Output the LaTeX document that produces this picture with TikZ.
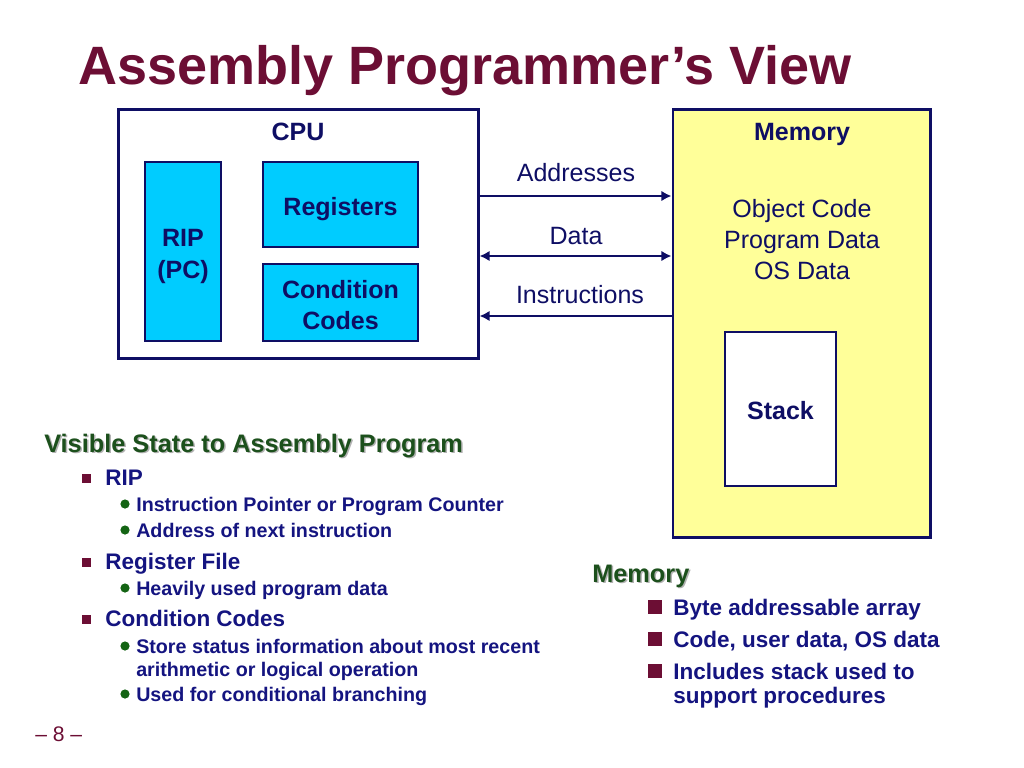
\documentclass[tikz,border=0pt]{standalone}
\usepackage{fontspec}
\setmainfont{Liberation Sans}
\usetikzlibrary{arrows.meta, positioning}
\definecolor{navy}{RGB}{14,14,100}
\definecolor{itemblue}{RGB}{20,20,128}
\definecolor{maroon}{RGB}{108,14,52}
\definecolor{headgreen}{RGB}{28,80,28}
\definecolor{dotgreen}{RGB}{20,100,20}
\definecolor{regcyan}{RGB}{0,204,255}
\definecolor{memyellow}{RGB}{255,255,153}
\newcommand{\boxfont}{\fontsize{17.8pt}{22.5pt}\selectfont}
\newcommand{\headfont}{\fontsize{18pt}{22pt}\selectfont\bfseries}
\newcommand{\itemfont}{\fontsize{16pt}{20pt}\selectfont\bfseries}
\newcommand{\subfont}{\fontsize{14pt}{17pt}\selectfont\bfseries}

\begin{document}
\begin{tikzpicture}[x=0.025cm, y=-0.025cm,
    >={Latex[length=2.5mm, width=2.6mm]},
    outerbox/.style={draw=navy, line width=2.1pt, inner sep=0pt},
    innerbox/.style={draw=navy, line width=1.7pt, inner sep=0pt},
    boxtext/.style={align=center, inner sep=0pt, text=navy, font=\boxfont\bfseries},
    boxlabel/.style={anchor=base, inner sep=0pt, text=navy, font=\boxfont},
    bus/.style={draw=navy, line width=1.5pt},
    heading/.style={anchor=base west, inner sep=0pt, font=\headfont},
    item/.style={anchor=base west, inner sep=0pt, text=itemblue, font=\itemfont},
    subitem/.style={anchor=base west, inner sep=0pt, text=itemblue, font=\subfont},
    square/.style={fill=maroon, minimum size=0.225cm, inner sep=0pt},
    bigsquare/.style={fill=maroon, minimum size=0.34cm, inner sep=0pt},
    dot/.style={circle, fill=dotgreen, minimum size=0.23cm, inner sep=0pt}]
    \useasboundingbox (0,0) rectangle (1024,768);

    % title
    \node[anchor=base west, inner sep=0pt, text=maroon, font=\fontsize{38.4pt}{46pt}\selectfont\bfseries] (title) at (78,85) {Assembly Programmer’s View};

    % cpu
    \node[outerbox, minimum width=8.975cm, minimum height=6.2cm] (cpu) at (298.5,234) {};
    \node[boxlabel, font=\boxfont\bfseries] (cpulbl) at (298,141) {CPU};
    \node[innerbox, fill=regcyan, minimum width=1.9cm, minimum height=4.475cm] (rip) at (183,251.5) {};
    \node[innerbox, fill=regcyan, minimum width=3.875cm, minimum height=2.125cm] (regs) at (340.5,204.5) {};
    \node[innerbox, fill=regcyan, minimum width=3.875cm, minimum height=1.925cm] (cc) at (340.5,302.5) {};
    \node[boxtext] (riptxt) at (183,256.5) {RIP\\(PC)};
    \node[boxtext] (regstxt) at (340.5,209.5) {Registers};
    \node[boxtext] (cctxt) at (340.5,305) {Condition\\Codes};

    % memory
    \node[outerbox, fill=memyellow, minimum width=6.425cm, minimum height=10.675cm] (mem) at (801.5,323.5) {};
    \node[boxlabel, font=\boxfont\bfseries] (memlbl) at (802,141) {Memory};
    \node[align=center, inner sep=0pt, text=navy, font=\fontsize{17.8pt}{21.8pt}\selectfont] (objs) at (802,239.5) {Object Code\\Program Data\\OS Data};
    \node[innerbox, fill=white, minimum width=2.775cm, minimum height=3.85cm] (stack) at (780.5,409) {};
    \node[boxtext] (stacktxt) at (780.5,411) {Stack};

    % buses
    \coordinate (addr) at (576,196);
    \coordinate (data) at (576,256);
    \coordinate (inst) at (576,316);
    \node[boxlabel] (addrlbl) at (576,181.5) {Addresses};
    \node[boxlabel] (datalbl) at (576,244) {Data};
    \node[boxlabel] (instlbl) at (580,303.5) {Instructions};
    \draw[bus, ->] (cpu.east |- addr) -- (mem.west |- addr);
    \draw[bus, <->] (cpu.east |- data) -- (mem.west |- data);
    \draw[bus, <-] (cpu.east |- inst) -- (mem.west |- inst);

    % visible state
    \node[heading, text=black!30] at (45.5,453.5) {Visible State to Assembly Program};
    \node[heading, text=headgreen] (vis) at (44,452) {Visible State to Assembly Program};
    \node[square] (s1) at (86,478) {};
    \node[item] (i1) at (105,485) {RIP};
    \node[dot] (d1) at (125,504) {};
    \node[subitem] (t1) at (136,511) {Instruction Pointer or Program Counter};
    \node[dot] (d2) at (125,530) {};
    \node[subitem] (t2) at (136,537) {Address of next instruction};
    \node[square] (s2) at (86,562) {};
    \node[item] (i2) at (105,569) {Register File};
    \node[dot] (d3) at (125,588) {};
    \node[subitem] (t3) at (136,595) {Heavily used program data};
    \node[square] (s3) at (86,619) {};
    \node[item] (i3) at (105,626) {Condition Codes};
    \node[dot] (d4) at (125,646) {};
    \node[subitem] (t4) at (136,653) {Store status information about most recent};
    \node[subitem] (t5) at (136,676) {arithmetic or logical operation};
    \node[dot] (d5) at (125,694) {};
    \node[subitem] (t6) at (136,701) {Used for conditional branching};

    % memory list
    \node[heading, text=black!30] at (593.5,583.5) {Memory};
    \node[heading, text=headgreen] (memhead) at (592,582) {Memory};
    \node[bigsquare] (m1) at (655,607) {};
    \node[item] (n1) at (673,615) {Byte addressable array};
    \node[bigsquare] (m2) at (655,639) {};
    \node[item] (n2) at (673,647) {Code, user data, OS data};
    \node[bigsquare] (m3) at (655,671) {};
    \node[item] (n3) at (673,679) {Includes stack used to};
    \node[item] (n4) at (673,703) {support procedures};

    % page number
    \node[anchor=base west, inner sep=0pt, text=maroon, font=\fontsize{15pt}{18pt}\selectfont] (page) at (35,741) {– 8 –};
\end{tikzpicture}
\end{document}
